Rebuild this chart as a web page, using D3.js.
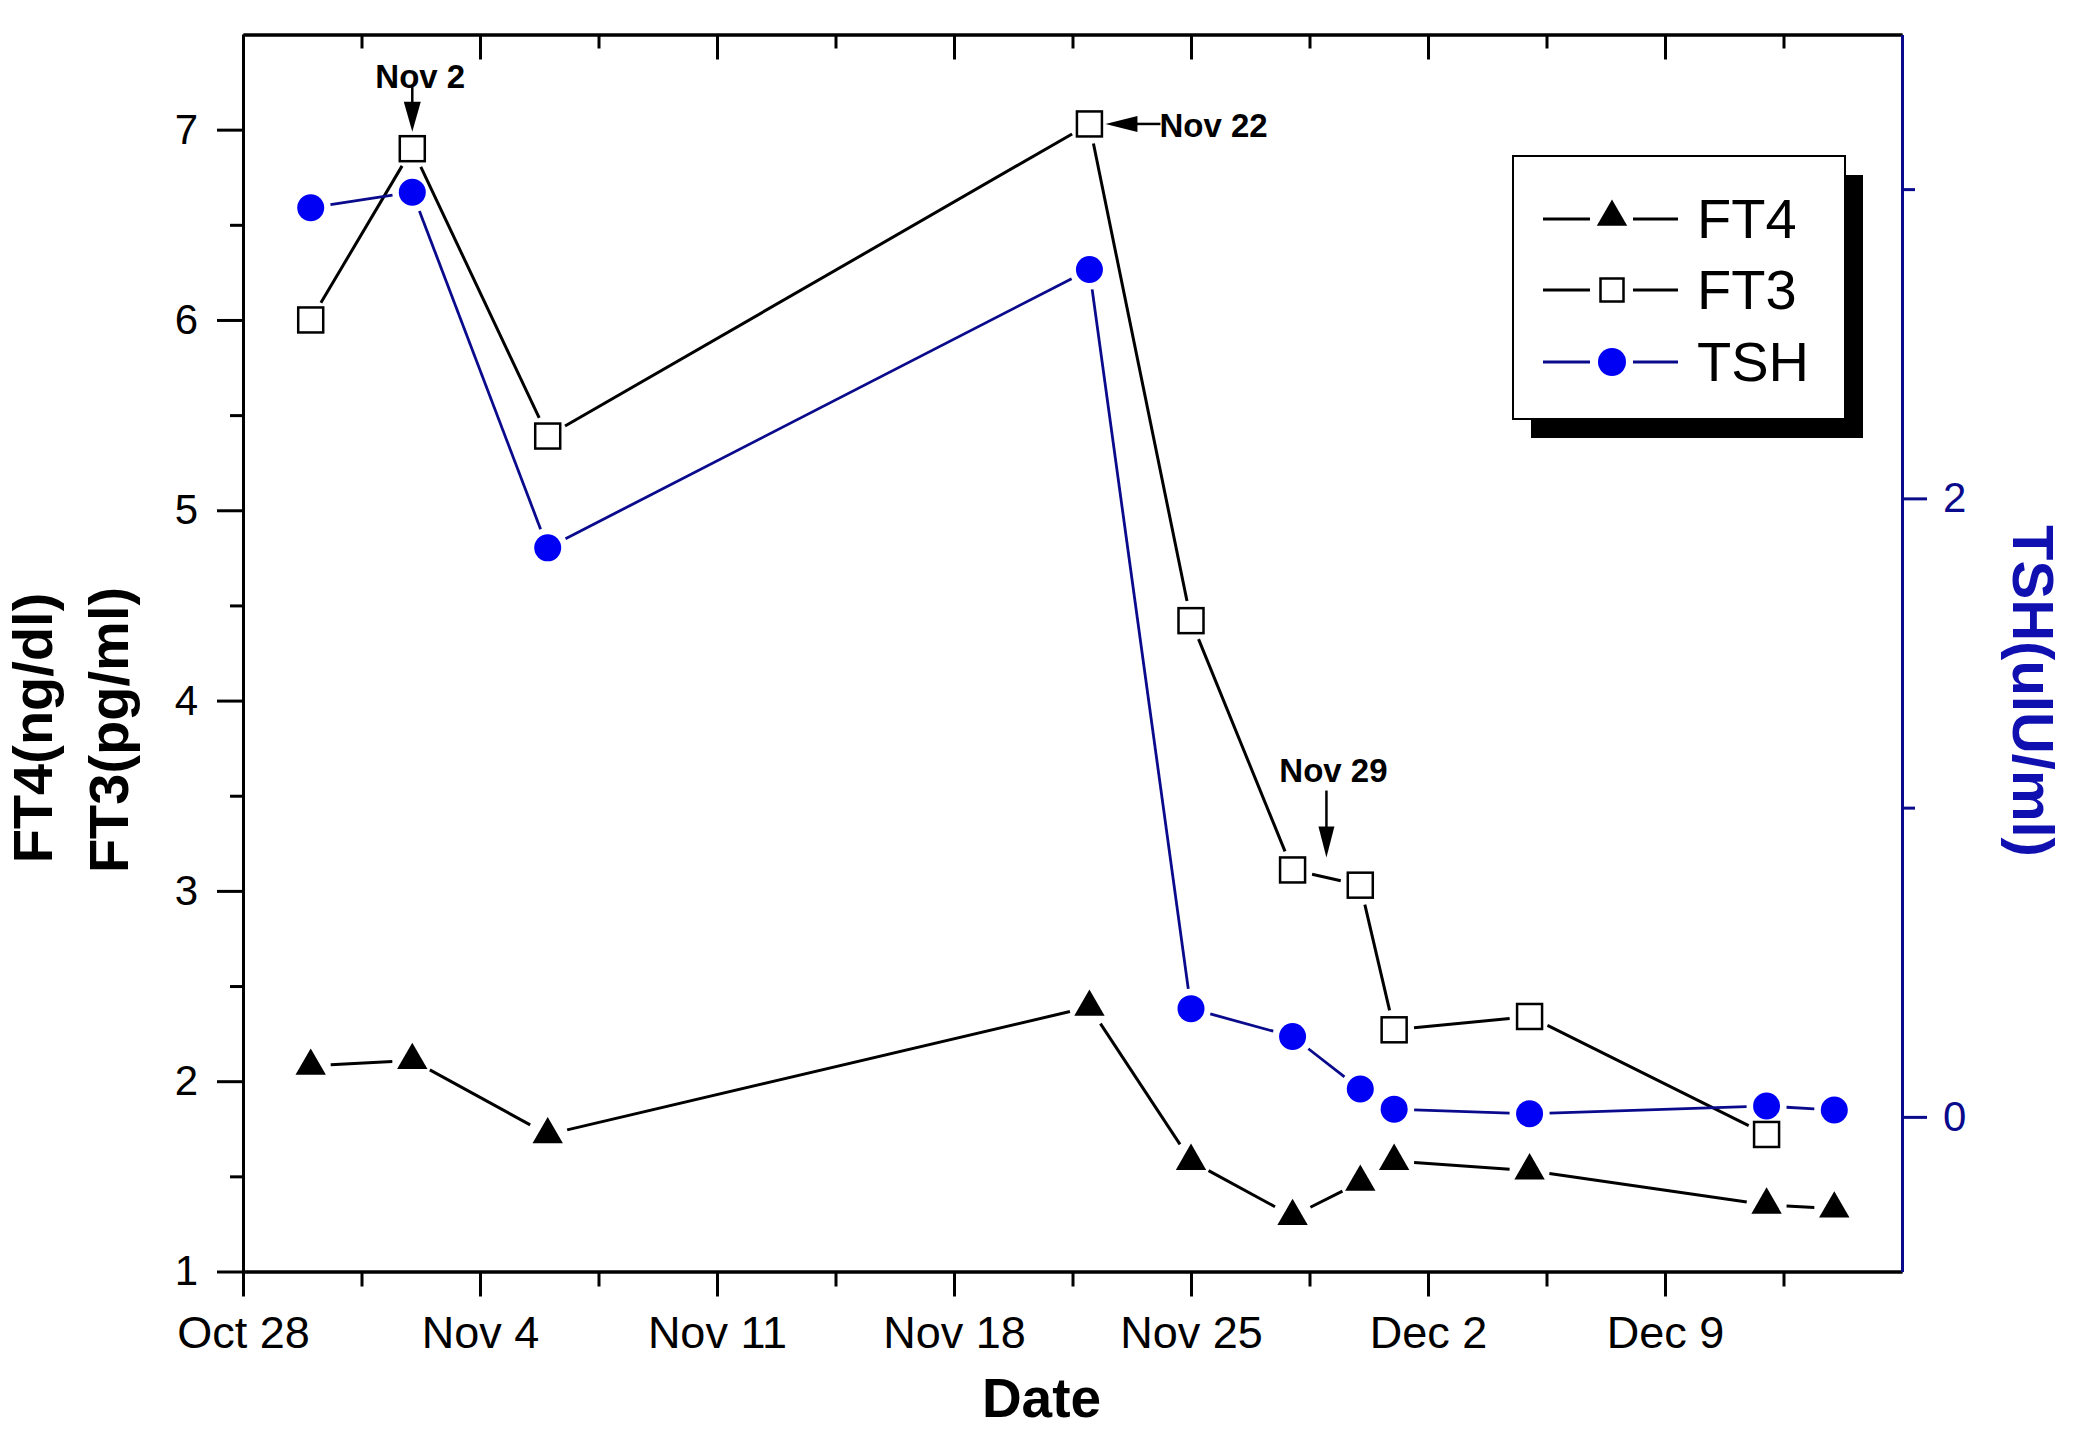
<!DOCTYPE html>
<html>
<head>
<meta charset="utf-8">
<script src="https://cdn.jsdelivr.net/npm/d3@7"></script>
<style>
  html, body { margin: 0; padding: 0; background: #fff; }
  svg { display: block; font-family: "Liberation Sans", Arial, Helvetica, sans-serif; }
</style>
</head>
<body>
<svg id="chart" width="2084" height="1443"></svg>
<script>
// ---------------- data ----------------
const sampleDates = ["Oct 30","Nov 2","Nov 6","Nov 22","Nov 25","Nov 28","Nov 30","Dec 1","Dec 5","Dec 12","Dec 14"];
const ft4Values = [2.08, 2.11, 1.72, 2.39, 1.58, 1.29, 1.47, 1.58, 1.53, 1.35, 1.33];
const ft3Values = [6.00, 6.90, 5.39, 7.03, 4.42, 3.11, 3.03, 2.27, 2.34, 1.72];
const tshValues = [2.94, 2.99, 1.84, 2.74, 0.35, 0.26, 0.09, 0.025, 0.01, 0.035, 0.022];
const xTickLabels = ["Oct 28","Nov 4","Nov 11","Nov 18","Nov 25","Dec 2","Dec 9"];
const xDomainLabels = ["Oct 28","Dec 16"];
const yLeftTicks = [1,2,3,4,5,6,7];
const yLeftMinor = [1.5,2.5,3.5,4.5,5.5,6.5];
const yRightTicks = [0,2];
const yRightMinor = [1,3];
const legendLabels = ["FT4","FT3","TSH"];
const annLabels = ["Nov 2","Nov 22","Nov 29"];
const annDates = ["Nov 2","Nov 22","Nov 29"];
const annTargets = [6.90, 7.03, 3.07];

// ---------------- setup ----------------
const YEAR = " 2019";
const parse = d3.utcParse("%b %d %Y");
const P = s => parse(s + YEAR);
const DAY = 864e5;

const svg = d3.select("#chart");
const L = 243, R = 1902, T = 34.5, B = 1271.5;
const BLACK = "#000", NAVY = "#0a0a8c", BLUE = "#0000f5", NAVYTXT = "#1010b0";

const x = d3.scaleUtc().domain(xDomainLabels.map(P)).range([L, R]);
const yL = d3.scaleLinear().domain([1, 7.5]).range([B, T]);
const yR = d3.scaleLinear().domain([-0.5, 3.5]).range([B, T]);

const majorDates = xTickLabels.map(P);
const minorDates = majorDates.map(d => new Date(+d + 3.5 * DAY)).filter(d => d < x.domain()[1]);

function styleAxis(g, color, fs) {
  g.selectAll("path.domain").attr("stroke", color).attr("stroke-width", 3);
  g.selectAll(".tick line").attr("stroke", color).attr("stroke-width", 3);
  g.selectAll(".tick text").attr("fill", color).attr("font-size", fs)
    .attr("font-family", "'Liberation Sans', Arial, sans-serif");
}

// bottom axis
const gxMinor = svg.append("g").attr("transform", `translate(0,${B})`)
  .call(d3.axisBottom(x).tickValues(minorDates).tickSize(15).tickSizeOuter(0).tickFormat(""));
styleAxis(gxMinor, BLACK, 0);
const gx = svg.append("g").attr("transform", `translate(0,${B})`)
  .call(d3.axisBottom(x).tickValues(majorDates).tickSize(25).tickSizeOuter(0).tickPadding(20)
        .tickFormat((d, i) => xTickLabels[i]));
styleAxis(gx, BLACK, 45);

// top axis (inward ticks, no labels)
const gtMinor = svg.append("g").attr("transform", `translate(0,${T})`)
  .call(d3.axisTop(x).tickValues(minorDates).tickSize(-14).tickSizeOuter(0).tickFormat(""));
styleAxis(gtMinor, BLACK, 0);
const gt = svg.append("g").attr("transform", `translate(0,${T})`)
  .call(d3.axisTop(x).tickValues(majorDates).tickSize(-25).tickSizeOuter(0).tickFormat(""));
styleAxis(gt, BLACK, 0);

// left axis
const glMinor = svg.append("g").attr("transform", `translate(${L},0)`)
  .call(d3.axisLeft(yL).tickValues(yLeftMinor).tickSize(13).tickSizeOuter(0).tickFormat(""));
styleAxis(glMinor, BLACK, 0);
const gl = svg.append("g").attr("transform", `translate(${L},0)`)
  .call(d3.axisLeft(yL).tickValues(yLeftTicks).tickSize(26).tickSizeOuter(0).tickPadding(19)
        .tickFormat(d3.format("d")));
styleAxis(gl, BLACK, 42);

// right axis (TSH)
const grMinor = svg.append("g").attr("transform", `translate(${R},0)`)
  .call(d3.axisRight(yR).tickValues(yRightMinor).tickSize(13).tickSizeOuter(0).tickFormat(""));
styleAxis(grMinor, NAVY, 0);
const gr = svg.append("g").attr("transform", `translate(${R},0)`)
  .call(d3.axisRight(yR).tickValues(yRightTicks).tickSize(25).tickSizeOuter(0).tickPadding(16)
        .tickFormat(d3.format("d")));
styleAxis(gr, NAVY, 42);

// axis titles
svg.append("text").attr("x", (L + R) / 2 - 31).attr("y", 1417)
  .attr("text-anchor", "middle").attr("font-size", 55).attr("font-weight", "bold").text("Date");
svg.append("text").attr("transform", `translate(52,${(T + B) / 2 + 75}) rotate(-90)`)
  .attr("text-anchor", "middle").attr("font-size", 56).attr("font-weight", "bold").text("FT4(ng/dl)");
svg.append("text").attr("transform", `translate(128,${(T + B) / 2 + 77}) rotate(-90)`)
  .attr("text-anchor", "middle").attr("font-size", 56).attr("font-weight", "bold").text("FT3(pg/ml)");
svg.append("text").attr("transform", `translate(2013,${(T + B) / 2 + 38}) rotate(90)`)
  .attr("text-anchor", "middle").attr("font-size", 58).attr("font-weight", "bold")
  .attr("fill", NAVYTXT).text("TSH(uIU/ml)");

// ---------------- series ----------------
function gappedSegments(pts, gap) {
  const segs = [];
  for (let i = 0; i < pts.length - 1; i++) {
    const [x1, y1] = pts[i], [x2, y2] = pts[i + 1];
    const dx = x2 - x1, dy = y2 - y1, len = Math.hypot(dx, dy);
    if (len <= 2 * gap) continue;
    const ux = dx / len, uy = dy / len;
    segs.push([x1 + ux * gap, y1 + uy * gap, x2 - ux * gap, y2 - uy * gap]);
  }
  return segs;
}
function drawLine(pts, color, width) {
  svg.append("g").selectAll("line").data(gappedSegments(pts, 20)).join("line")
    .attr("x1", d => d[0]).attr("y1", d => d[1]).attr("x2", d => d[2]).attr("y2", d => d[3])
    .attr("stroke", color).attr("stroke-width", width);
}

const ft4Pts = ft4Values.map((v, i) => [x(P(sampleDates[i])), yL(v)]);
const ft3Pts = ft3Values.map((v, i) => [x(P(sampleDates[i])), yL(v)]);
const tshPts = tshValues.map((v, i) => [x(P(sampleDates[i])), yR(v)]);

drawLine(ft4Pts, BLACK, 3);
drawLine(ft3Pts, BLACK, 3);
drawLine(tshPts, NAVY, 2.8);

const tri = d3.symbol().type(d3.symbolTriangle).size(400);
svg.append("g").selectAll("path").data(ft4Pts).join("path")
  .attr("transform", d => `translate(${d[0]},${d[1]})`).attr("d", tri()).attr("fill", BLACK);

svg.append("g").selectAll("rect").data(ft3Pts).join("rect")
  .attr("x", d => d[0] - 12.5).attr("y", d => d[1] - 12.5).attr("width", 25).attr("height", 25)
  .attr("fill", "#fff").attr("stroke", BLACK).attr("stroke-width", 2.5);

svg.append("g").selectAll("circle").data(tshPts).join("circle")
  .attr("cx", d => d[0]).attr("cy", d => d[1]).attr("r", 13.5).attr("fill", BLUE);

// ---------------- annotations ----------------
function arrowHead(tipX, tipY, dir, len, w) {
  if (dir === "down") return `M${tipX},${tipY}L${tipX - w / 2},${tipY - len}L${tipX + w / 2},${tipY - len}Z`;
  return `M${tipX},${tipY}L${tipX + len},${tipY - w / 2}L${tipX + len},${tipY + w / 2}Z`;
}
const ann = svg.append("g");
// Nov 2 (down arrow above FT3 point)
{
  const ax = x(P(annDates[0])), tipY = yL(annTargets[0]) - 17;
  ann.append("line").attr("x1", ax).attr("y1", tipY - 45).attr("x2", ax).attr("y2", tipY - 20)
    .attr("stroke", BLACK).attr("stroke-width", 2.5);
  ann.append("path").attr("d", arrowHead(ax, tipY, "down", 30, 17)).attr("fill", BLACK);
  ann.append("text").attr("x", ax + 8).attr("y", tipY - 44).attr("text-anchor", "middle")
    .attr("font-size", 33).attr("font-weight", "bold").text(annLabels[0]);
}
// Nov 22 (left arrow right of FT3 point)
{
  const px = x(P(annDates[1])), py = yL(annTargets[1]);
  const tipX = px + 16;
  ann.append("path").attr("d", arrowHead(tipX, py, "left", 32, 16)).attr("fill", BLACK);
  ann.append("line").attr("x1", tipX + 25).attr("y1", py).attr("x2", tipX + 55).attr("y2", py)
    .attr("stroke", BLACK).attr("stroke-width", 2.5);
  ann.append("text").attr("x", tipX + 54).attr("y", py + 13).attr("text-anchor", "start")
    .attr("font-size", 33).attr("font-weight", "bold").text(annLabels[1]);
}
// Nov 29 (down arrow)
{
  const ax = x(P(annDates[2])), tipY = yL(annTargets[2]) - 20;
  ann.append("line").attr("x1", ax).attr("y1", tipY - 67).attr("x2", ax).attr("y2", tipY - 20)
    .attr("stroke", BLACK).attr("stroke-width", 2.5);
  ann.append("path").attr("d", arrowHead(ax, tipY, "down", 31, 16)).attr("fill", BLACK);
  ann.append("text").attr("x", ax + 7).attr("y", tipY - 76).attr("text-anchor", "middle")
    .attr("font-size", 33).attr("font-weight", "bold").text(annLabels[2]);
}

// ---------------- legend ----------------
const lg = svg.append("g").attr("transform", "translate(1513,156)");
lg.append("rect").attr("x", 18).attr("y", 19).attr("width", 332).attr("height", 263).attr("fill", BLACK);
lg.append("rect").attr("x", 0).attr("y", 0).attr("width", 332).attr("height", 263)
  .attr("fill", "#fff").attr("stroke", BLACK).attr("stroke-width", 2);
const rowY = [63, 134, 206];
const rowColors = [BLACK, BLACK, NAVY];
legendLabels.forEach((lab, i) => {
  const ry = rowY[i];
  lg.append("line").attr("x1", 30).attr("x2", 77).attr("y1", ry).attr("y2", ry)
    .attr("stroke", rowColors[i]).attr("stroke-width", 3);
  lg.append("line").attr("x1", 120).attr("x2", 165).attr("y1", ry).attr("y2", ry)
    .attr("stroke", rowColors[i]).attr("stroke-width", 3);
  if (i === 0) {
    lg.append("path").attr("transform", `translate(99,${ry - 2})`).attr("d", tri()).attr("fill", BLACK);
  } else if (i === 1) {
    lg.append("rect").attr("x", 99 - 11.5).attr("y", ry - 11.5).attr("width", 23).attr("height", 23)
      .attr("fill", "#fff").attr("stroke", BLACK).attr("stroke-width", 2.5);
  } else {
    lg.append("circle").attr("cx", 99).attr("cy", ry).attr("r", 14).attr("fill", BLUE);
  }
  lg.append("text").attr("x", 184).attr("y", ry + 19).attr("font-size", 56).attr("fill", BLACK).text(lab);
});
</script>
</body>
</html>
